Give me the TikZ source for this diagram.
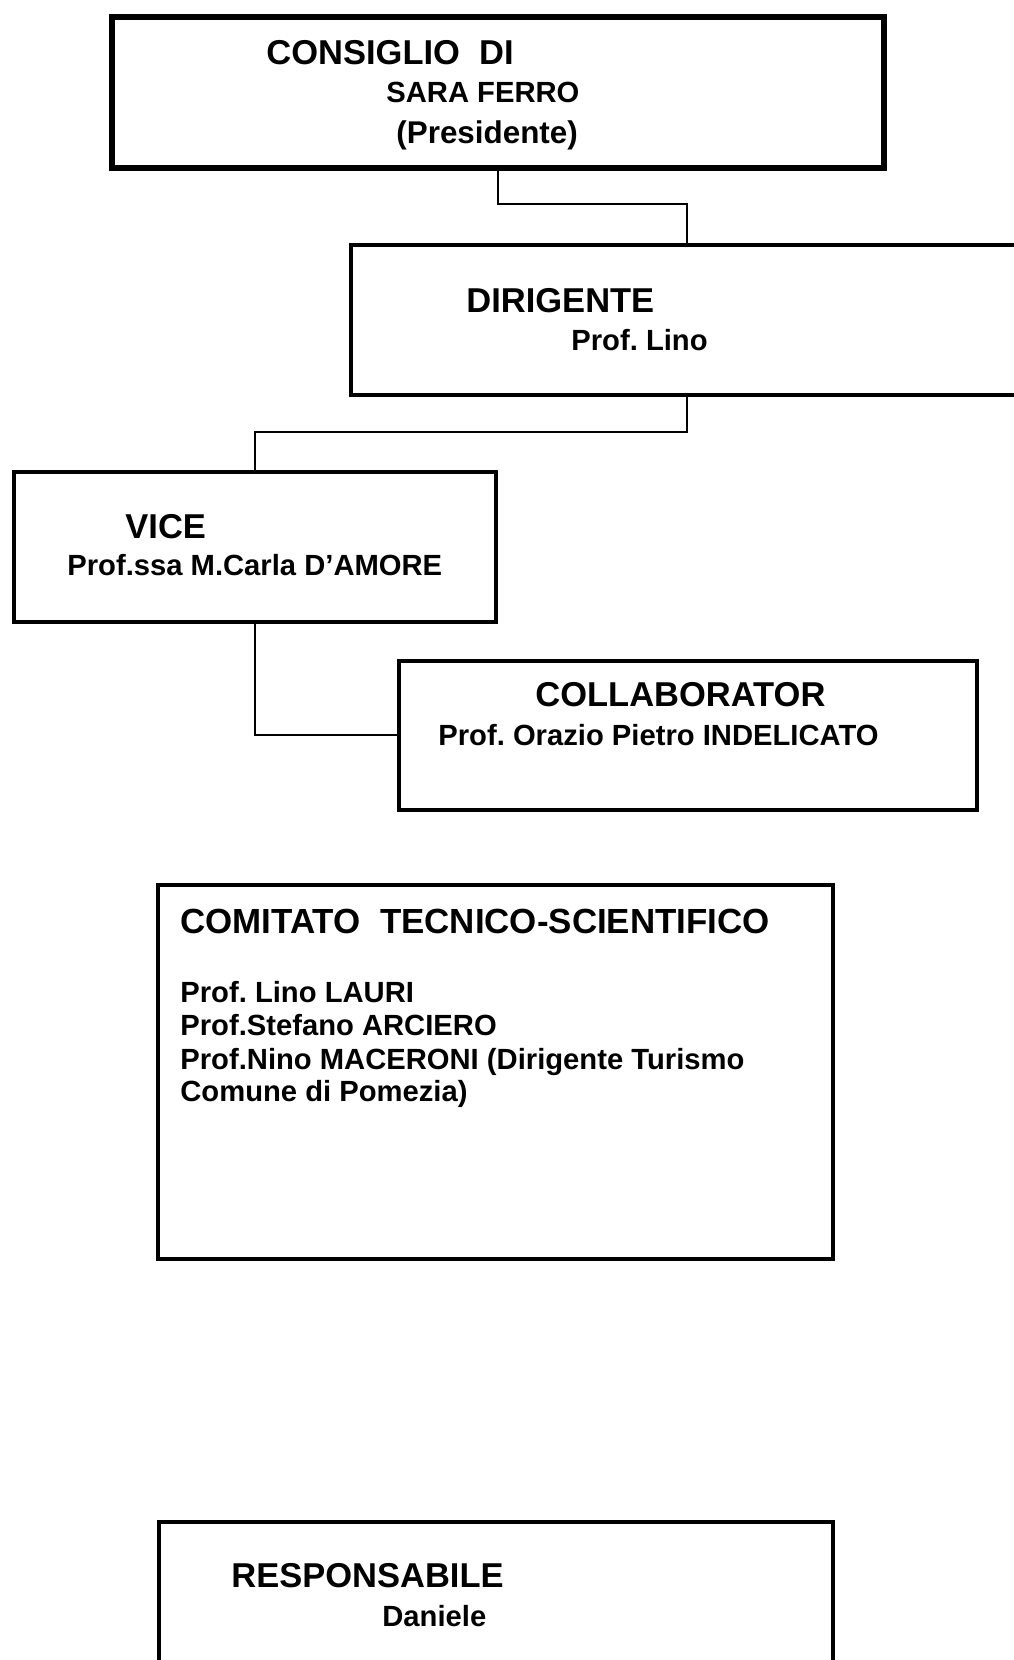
\documentclass[tikz,border=0pt]{standalone}
\usepackage{fontspec}
\setmainfont{Liberation Sans}
\frenchspacing
\begin{document}
\begin{tikzpicture}[x=0.5pt,y=-0.5pt,
  box/.style={draw, line width=2pt, inner sep=0pt, anchor=north west},
  thickbox/.style={box, line width=3pt},
  conn/.style={line width=1pt},
  head/.style={anchor=base west, inner sep=0pt, font=\bfseries\fontsize{17.25}{20}\selectfont},
  body/.style={anchor=base west, inner sep=0pt, font=\bfseries\fontsize{14.6}{16.6}\selectfont}]
\useasboundingbox (0,0) rectangle (1013,1660);
% boxes
\node[thickbox, minimum width=386pt, minimum height=75.5pt] (b1) at (109,14) {};
\node[box, minimum width=341pt, minimum height=75pt] (b2) at (349,243) {};
\node[box, minimum width=241.25pt, minimum height=75pt] (b3) at (11.5,469.5) {};
\node[box, minimum width=289pt, minimum height=74.25pt] (b4) at (397,659) {};
\node[box, minimum width=337.5pt, minimum height=187pt] (b5) at (156,883) {};
\node[box, minimum width=337pt, minimum height=85pt] (b6) at (157,1520) {};
% texts
\node[head] (t1a) at (266,64) {CONSIGLIO\ \ DI};
\node[body] (t1b) at (386,102.5) {SARA FERRO};
\node[body, font=\bfseries\fontsize{15.7}{18}\selectfont] (t1c) at (396,143) {(Presidente)};
\node[head] (t2a) at (466,312) {DIRIGENTE};
\node[body] (t2b) at (571,350.5) {Prof. Lino};
\node[head] (t3a) at (125,538) {VICE};
\node[body] (t3b) at (67,575.5) {Prof.ssa M.Carla D’AMORE};
\node[head] (t4a) at (535,706) {COLLABORATOR};
\node[body] (t4b) at (438,745.5) {Prof. Orazio Pietro INDELICATO};
\node[head, font=\bfseries\fontsize{17.45}{20}\selectfont] (t5a) at (180,933) {COMITATO\ \ TECNICO-SCIENTIFICO};
\node[body] (m1) at (180,1002) {Prof. Lino LAURI};
\node[body] (m2) at (180,1035.5) {Prof.Stefano ARCIERO};
\node[body] (m3) at (180,1069) {Prof.Nino MACERONI (Dirigente Turismo};
\node[body] (m4) at (180,1101.5) {Comune di Pomezia)};
\node[head] (t6a) at (231,1587) {RESPONSABILE};
\node[body] (t6b) at (382,1626.5) {Daniele};
% connectors
\coordinate (j1) at (687,204);
\coordinate (j2) at (687,432);
\draw[conn] (b1.south) |- (j1) -- (j1 |- b2.north);
\draw[conn] (j2 |- b2.south) -- (j2) -| (b3.north);
\draw[conn] (b3.south) |- (b4.west);
\end{tikzpicture}
\end{document}
